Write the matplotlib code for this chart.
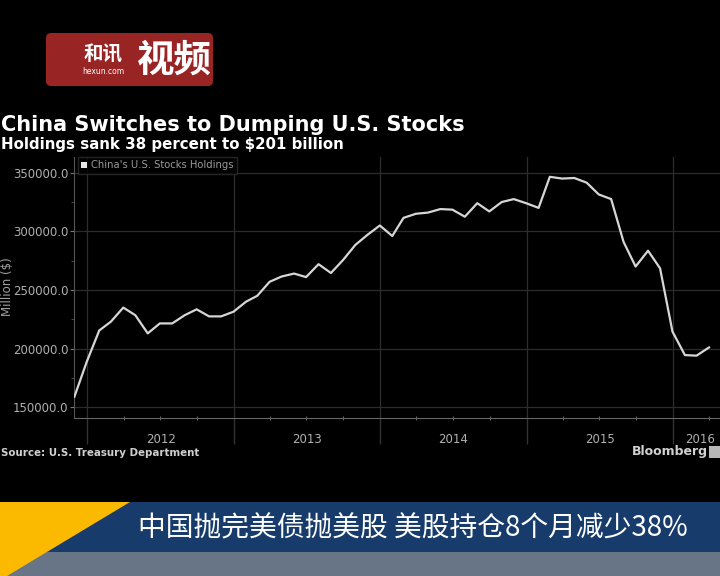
# Gráfico: tenencias de acciones de EE.UU. por parte de China (captura de video)
import pandas as pd
import matplotlib.pyplot as plt
import matplotlib.dates as mdates
from matplotlib.patches import Patch, FancyBboxPatch, Polygon, Rectangle
from matplotlib.ticker import MultipleLocator, FormatStrFormatter

# Datos (millones de USD, fin de mes)
months = pd.date_range('2011-11-30', '2016-03-31', freq='ME')
holdings = [159000, 189000, 215500, 223000, 235000, 228500, 213000, 221500,
            221500, 228500, 233500, 227500, 227500, 231500, 240000, 245000,
            257000, 261500, 264000, 261000, 272000, 264500, 275500, 288500,
            297000, 305000, 296000, 311500, 315000, 316000, 319000, 318500,
            312500, 324000, 317000, 325000, 327500, 324000, 320000, 346500,
            345000, 345500, 341500, 331500, 327500, 291000, 270000, 283500,
            268500, 214500, 194500, 194000, 201000]
years = [2012, 2013, 2014, 2015, 2016]

title = 'China Switches to Dumping U.S. Stocks'
subtitle = 'Holdings sank 38 percent to $201 billion'
series_name = "China's U.S. Stocks Holdings"
y_label = 'Million ($)'
source = 'Source: U.S. Treasury Department'
banner = '中国抛完美债抛美股 美股持仓8个月减少38%'

W, H = 720, 576
cjk = ['Noto Sans CJK SC', 'DejaVu Sans']


def px(x, y):
    # pixeles de la imagen -> coordenadas de figura
    return (x / W, 1 - y / H)


fig = plt.figure(figsize=(7.2, 5.76), dpi=100, facecolor='black')

# Ejes principales
ax = fig.add_axes([74 / W, 1 - 418.3 / H, (727 - 74) / W, (418.3 - 157) / H])
ax.set_facecolor('black')
ax.plot(months, holdings, color='#d6d6d6', lw=1.6, zorder=3)
x0, x1 = pd.Timestamp('2011-11-29'), pd.Timestamp('2016-05-15')
ax.set_xlim(x0, x1)
ax.set_ylim(140600, 363400)

# Eje y
ax.yaxis.set_major_locator(MultipleLocator(50000))
ax.yaxis.set_minor_locator(MultipleLocator(25000))
ax.yaxis.set_major_formatter(FormatStrFormatter('%.1f'))
ax.tick_params(axis='y', which='major', colors='#777777', labelcolor='#b0b0b0',
               labelsize=8.5, length=3, pad=1)
ax.tick_params(axis='y', which='minor', colors='#555555', length=2)

# Eje x: líneas de año y marcas trimestrales
ax.xaxis.set_major_locator(mdates.YearLocator())
ax.xaxis.set_minor_locator(mdates.MonthLocator(bymonth=[4, 7, 10]))
ax.tick_params(axis='x', which='major', colors='#333333', length=19, width=1,
               labelbottom=False)
ax.tick_params(axis='x', which='minor', colors='#777777', length=3,
               direction='inout')
for yr in years:
    start = pd.Timestamp(f'{yr}-01-01')
    end = min(pd.Timestamp(f'{yr + 1}-01-01'), x1)
    ax.text(start + (end - start) / 2, -0.08, str(yr), color='#b0b0b0',
            fontsize=8.5, ha='center', va='center',
            transform=ax.get_xaxis_transform())

ax.grid(axis='y', which='major', color='#2b2b2b', lw=0.9)
ax.grid(axis='x', which='major', color='#2e2e2e', lw=0.9)
for s in ['top', 'right']:
    ax.spines[s].set_visible(False)
ax.spines['left'].set_color('#555555')
ax.spines['bottom'].set_color('#666666')

# Leyenda
leg = ax.legend(handles=[Patch(facecolor='#e6e6e6', edgecolor='none')],
                labels=[series_name], loc='upper left',
                bbox_to_anchor=(0.006, 1.0), frameon=True, fancybox=False,
                facecolor='black', edgecolor='#2e2e2e', fontsize=7.2,
                labelcolor='#9a9a9a', handlelength=0.6, handleheight=0.6,
                handletextpad=0.4, borderpad=0.35, borderaxespad=0)

# Textos de la figura
fig.text(*px(1, 125), title, fontsize=15, fontweight='bold', color='white',
         ha='left', va='center')
fig.text(*px(1, 144), subtitle, fontsize=10.8, fontweight='bold', color='white',
         ha='left', va='center')
fig.text(*px(8, 287), y_label, rotation=90, color='#a0a0a0', fontsize=8.5,
         ha='center', va='center')
fig.text(*px(1, 453), source, fontsize=7.4, fontweight='bold', color='#cfcfcf',
         ha='left', va='center')
fig.text(*px(632, 452), 'Bloomberg', fontsize=9, fontweight='bold',
         color='#d0d0d0', ha='left', va='center')
fig.patches.append(Rectangle(px(709, 458), 11 / W, 12 / H, fc='#b8b8b8',
                             ec='none', transform=fig.transFigure))

# Logo de la esquina superior
fig.patches.append(FancyBboxPatch((46, H - 86), 167, 53,
                                  boxstyle='round,pad=0,rounding_size=5',
                                  fc='#982424', ec='none', transform=None))
fig.text(*px(103, 54), '和讯', family=cjk, fontsize=14, fontweight='bold',
         color='white', ha='center', va='center')
fig.text(*px(103, 72), 'hexun.com', fontsize=5.5, color='white',
         ha='center', va='center')
fig.text(*px(174, 60), '视频', family=cjk, fontsize=27, fontweight='bold',
         color='white', ha='center', va='center')

# Banda inferior con el titular
fig.patches.append(Polygon([px(0, 502), px(720, 502), px(720, 552), px(0, 552)],
                           closed=True, fc='#173c6c', ec='none',
                           transform=fig.transFigure))
fig.patches.append(Polygon([px(0, 552), px(720, 552), px(720, 576), px(0, 576)],
                           closed=True, fc='#687587', ec='none',
                           transform=fig.transFigure))
fig.patches.append(Polygon([px(0, 502), px(130, 502), px(7, 576), px(0, 576)],
                           closed=True, fc='#fbb900', ec='none',
                           transform=fig.transFigure))
fig.text(*px(138, 529), banner, family=cjk, fontsize=20, color='white',
         ha='left', va='center')

fig.savefig('out.png', dpi=100, facecolor='black')
